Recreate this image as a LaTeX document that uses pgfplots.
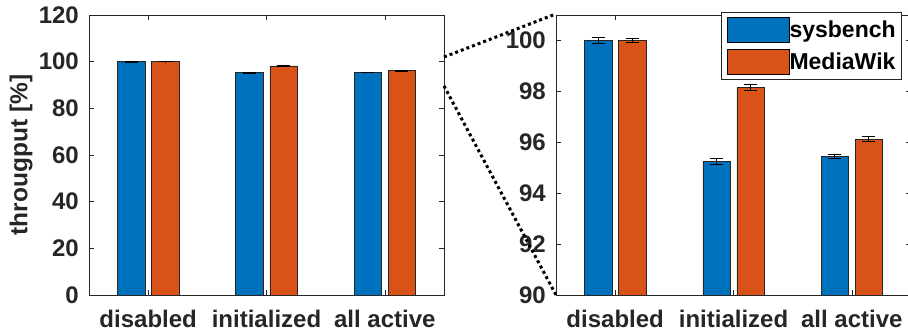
\documentclass[border=0pt]{standalone}
\usepackage{pgfplots}
\pgfplotsset{compat=1.18}
\usepackage{pgfplotstable}
\usepackage{fontspec}
\setmainfont{Liberation Sans}
\definecolor{mblue}{RGB}{0,114,189}
\definecolor{morange}{RGB}{217,83,25}
\definecolor{axgray}{RGB}{38,38,38}

\pgfplotstableread{
x y err
1 100.00 0.12
2 95.25 0.12
3 95.44 0.07
}\sysbench
\pgfplotstableread{
x y err
1 100.00 0.08
2 98.15 0.12
3 96.12 0.10
}\mediawik

\pgfplotsset{
 mystyle/.style={
  scale only axis, width=355pt, height=280pt,
  xmin=0.5, xmax=3.5,
  xtick={1,2,3}, xticklabels={disabled,initialized,all active},
  ybar=6.5pt, bar width=27.5pt,
  tick align=inside, major tick length=5pt,
  axis line style={axgray, line width=0.6pt},
  every tick/.style={axgray, line width=0.6pt},
  tick label style={font=\fontsize{24}{28}\selectfont\bfseries, text=axgray},
  /pgf/number format/assume math mode=true,
  xticklabel style={anchor=base, yshift=-33pt},
  yticklabel style={inner sep=0pt, xshift=-10pt},
  minor tick num=0,
 },
 bstyle/.style={fill=#1, draw=black!85, line width=0.5pt,
  /pgfplots/error bars/y dir=both, /pgfplots/error bars/y explicit,
  /pgfplots/error bars/error bar style={black, line width=0.8pt},
  /pgfplots/error bars/error mark options={rotate=90, mark size=6.5pt, line width=0.8pt, black}},
}

\begin{document}
\begin{tikzpicture}
\begin{axis}[mystyle, at={(89pt,37pt)}, anchor=south west,
  ymin=0, ymax=120, ytick={0,20,...,120},
  ylabel={througput [\%]},
  every axis y label/.style={at={(axis description cs:-0.1915,0.5)}, rotate=90, anchor=center,
    font=\fontsize{24.5}{28}\selectfont\bfseries, text=axgray},
]
\addplot[bstyle=mblue] table[x=x, y=y, y error=err] {\sysbench};
\addplot[bstyle=morange] table[x=x, y=y, y error=err] {\mediawik};
\coordinate (L1) at (axis cs:3.5,102);
\coordinate (L2) at (axis cs:3.5,89.6);
\end{axis}

\begin{axis}[mystyle, at={(556pt,37pt)}, anchor=south west,
  ymin=90, ymax=101, ytick={90,92,...,100},
  legend style={at={(0.9745,1.011)}, anchor=north east,
    font=\fontsize{23}{26}\selectfont\bfseries, draw=axgray, line width=0.6pt,
    inner xsep=6pt, inner ysep=5pt, row sep=6pt, text=black,
    nodes={inner sep=0pt},
    /tikz/every even column/.style={column sep=4pt}},
  legend cell align=left,
]
\addplot[bstyle=mblue, /pgfplots/legend image code/.code={\draw[fill=mblue, draw=black, line width=0.6pt] (0pt,-12.5pt) rectangle (62pt,12.5pt);}] table[x=x, y=y, y error=err] {\sysbench};
\addplot[bstyle=morange, /pgfplots/legend image code/.code={\draw[fill=morange, draw=black, line width=0.6pt] (0pt,-12.5pt) rectangle (62pt,12.5pt);}] table[x=x, y=y, y error=err] {\mediawik};
\legend{sysbench, MediaWik}
\coordinate (R1) at (rel axis cs:-0.008,1);
\coordinate (R2) at (rel axis cs:0,0);
\end{axis}

\draw[black, line width=3pt, dash pattern=on 3pt off 3pt] (L1) -- (R1);
\draw[black, line width=3pt, dash pattern=on 3pt off 3pt] (L2) -- (R2);

\pgfresetboundingbox
\path[use as bounding box] (0,0) rectangle (908pt,332pt);
\end{tikzpicture}
\end{document}
